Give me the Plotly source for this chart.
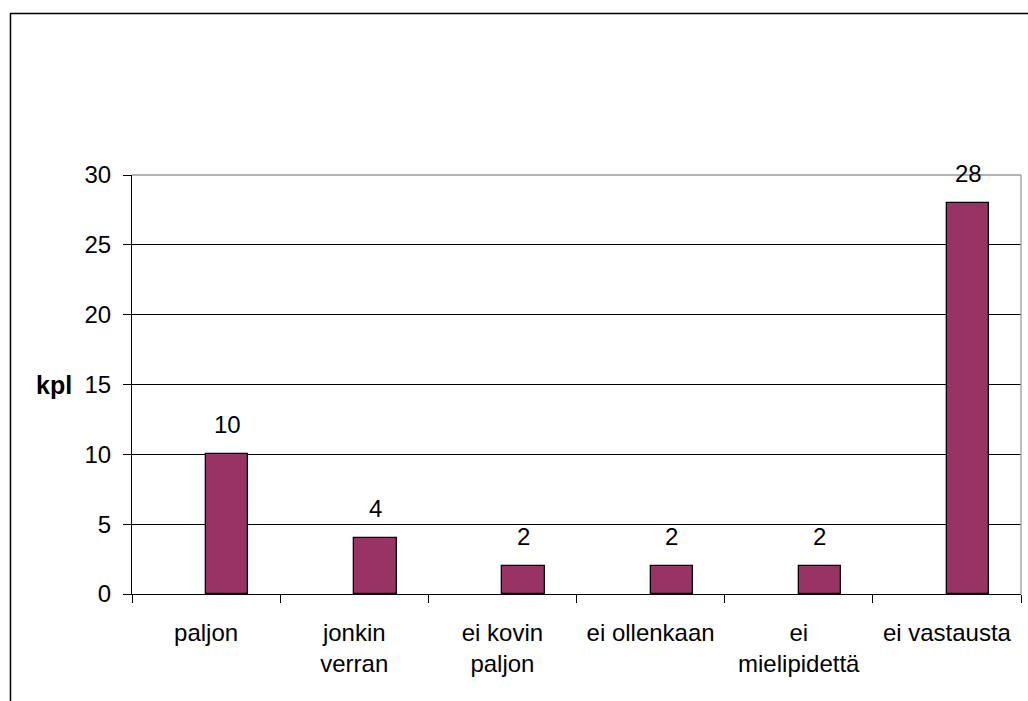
import plotly.graph_objects as go

# Survey answer counts
categories = ["paljon", "jonkin<br>verran", "ei kovin<br>paljon", "ei ollenkaan",
              "ei<br>mielipidettä", "ei vastausta"]
counts = [10, 4, 2, 2, 2, 28]
y_ticks = [0, 5, 10, 15, 20, 25, 30]

BAR_COLOR = "#993366"
FONT = "Liberation Sans, Arial, sans-serif"
BAR_WIDTH = 1 / 3.5  # two series slots with 150% gap; only the second slot is filled

fig = go.Figure()
fig.add_trace(go.Bar(
    x=categories,
    y=counts,
    width=BAR_WIDTH,
    offset=0,
    marker=dict(color=BAR_COLOR, line=dict(color="black", width=1.3)),
    hoverinfo="skip",
))

# value labels above the bars
for i, v in enumerate(counts):
    fig.add_annotation(
        x=i + BAR_WIDTH / 2, y=v, xref="x", yref="y",
        text=str(v), showarrow=False, yanchor="bottom", yshift=14,
        font=dict(family=FONT, size=24, color="black"),
    )

# axis title, horizontal to the left of the tick labels
fig.add_annotation(
    x=-0.0877, y=0.4988, xref="paper", yref="paper",
    text="<b>kpl</b>", showarrow=False, xanchor="center", yanchor="middle",
    font=dict(family=FONT, size=25, color="black"),
)

# grey plot-area border on top and right
fig.add_shape(type="line", xref="paper", yref="paper", x0=0, x1=1, y0=1, y1=1,
              line=dict(color="#9a9a9a", width=1.3), layer="above")
fig.add_shape(type="line", xref="paper", yref="paper", x0=1, x1=1, y0=0, y1=1,
              line=dict(color="#9a9a9a", width=1.3), layer="above")

# chart-area frame (runs off the right and bottom edges)
fig.add_shape(type="rect", xref="paper", yref="paper",
              x0=-0.1367, x1=1.2, y0=-0.4, y1=1.3854,
              line=dict(color="black", width=1.5), fillcolor="rgba(0,0,0,0)",
              layer="below")

fig.update_layout(
    width=1028, height=701,
    margin=dict(l=132, r=7, t=175, b=107),
    paper_bgcolor="white", plot_bgcolor="white",
    showlegend=False,
    font=dict(family=FONT, size=24, color="black"),
    bargap=0,
)
fig.update_xaxes(
    type="category",
    tickson="boundaries",
    ticks="outside", ticklen=8, tickwidth=1, tickcolor="black",
    showline=True, linecolor="black", linewidth=1,
    showgrid=False,
    tickfont=dict(family=FONT, size=24, color="black"),
    ticklabelstandoff=17,
    range=[-0.5, 5.5],
)
fig.update_yaxes(
    range=[0, 30],
    tickvals=y_ticks,
    ticks="outside", ticklen=8, tickwidth=1, tickcolor="black",
    showline=True, linecolor="black", linewidth=1,
    showgrid=True, gridcolor="black", gridwidth=1,
    zeroline=False,
    tickfont=dict(family=FONT, size=24, color="black"),
    ticklabelstandoff=7,
)

fig.write_html("out.html")
